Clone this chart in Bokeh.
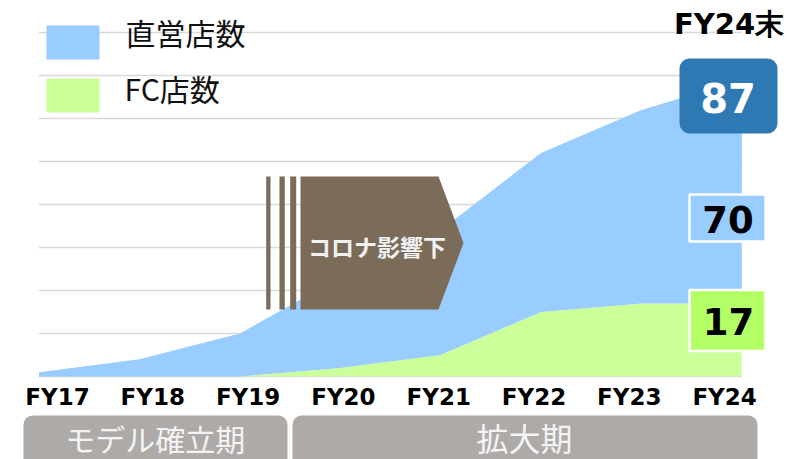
from bokeh.plotting import figure
from bokeh.models import ColumnDataSource, Range1d
from bokeh.core.properties import value
from bokeh.embed import file_html
from bokeh.resources import INLINE

# ---------------- data ----------------
years = ["FY17", "FY18", "FY19", "FY20", "FY21", "FY22", "FY23", "FY24"]
fc_stores = [0, 0, 0, 2, 5, 15, 17, 17]
direct_stores = [1, 4, 10, 21, 29, 37, 45, 52]
grid_values = [0, 10, 20, 30, 40, 50, 60, 70, 80]
series_names = ["直営店数", "FC店数"]
end_title = "FY24末"
end_total = 87
end_direct = 70
end_fc = 17
covid_label = "コロナ影響下"
phases = ["モデル確立期", "拡大期"]

# ---------------- style ----------------
BLUE = "#99CCFF"
GREEN = "#CCFF99"
DARK_BLUE = "#2E78B4"
BRIGHT_GREEN = "#B3FF66"
BROWN = "#7B6B59"
GRAY = "#AEAAA8"
GRID = "#D9D9D9"
CJK = value("Noto Sans CJK JP")
LAT = value("DejaVu Sans")

W, H = 810, 459
# canvas-pixel -> data helpers (frame covers the whole canvas)
X0, DX, Y0, DY = 38.5, 100.4, 376.0, 4.3
def px(X):
    return (X - X0) / DX
def py(Y):
    return (Y0 - Y) / DY

p = figure(width=W, height=H,
           x_range=Range1d(px(0), px(W)), y_range=Range1d(py(H), py(0)),
           output_backend="svg", toolbar_location=None, min_border=0,
           x_axis_location=None, y_axis_location=None)
p.xgrid.visible = False
p.ygrid.visible = False
p.outline_line_color = None
p.background_fill_color = "white"
p.border_fill_color = "white"

n = len(years)
idx = list(range(n))

# gridlines
p.segment(x0=[0] * len(grid_values), x1=[n - 1] * len(grid_values),
          y0=grid_values, y1=grid_values, line_color=GRID, line_width=1.6)

# stacked areas
src = ColumnDataSource(dict(x=idx, fc=fc_stores, direct=direct_stores))
p.varea_stack(["fc", "direct"], x="x", color=[GREEN, BLUE], source=src)

# covid arrow
p.quad(left=[px(265.7), px(279), px(289.7)], right=[px(270), px(284.3), px(295.7)],
       top=py(176), bottom=py(309), fill_color=BROWN, line_color=None)
p.patch(x=[px(300), px(438), px(463), px(438), px(300)],
        y=[py(176), py(176), py(242.5), py(309), py(309)],
        fill_color=BROWN, line_color=None)
p.text(x=[px(376.5)], y=[py(245)], text=[covid_label], text_font=CJK,
       text_font_style="bold", text_font_size="23px", text_color="#F2F2F2",
       text_align="center", text_baseline="middle")

# legend
p.quad(left=px(46), right=px(99), top=[py(25), py(78)], bottom=[py(59), py(112)],
       fill_color=[BLUE, GREEN], line_color=None)
p.text(x=[px(125), px(124)], y=[py(31.5), py(87)], text=series_names, text_font=CJK,
       text_font_size="30px", text_color="#111111", text_align="left",
       text_baseline="middle")

# end-of-period boxes
p.quad(left=px(679), right=px(777), top=py(58), bottom=py(133),
       fill_color=DARK_BLUE, line_color=None, border_radius=10)
p.quad(left=[px(689), px(689)], right=[px(765), px(765)],
       top=[py(194), py(289.5)], bottom=[py(241), py(350.5)],
       fill_color=[BLUE, BRIGHT_GREEN], line_color="white", line_width=2.5)
p.text(x=[px(727.5)], y=[py(97)], text=[str(end_total)], text_font=LAT,
       text_font_style="bold", text_font_size="40px", text_color="white",
       text_align="center", text_baseline="middle")
p.text(x=[px(727.5), px(728)], y=[py(219), py(321)], text=[str(end_direct), str(end_fc)],
       text_font=LAT, text_font_style="bold", text_font_size="37px",
       text_color="black", text_align="center", text_baseline="middle")
p.text(x=[px(728.5)], y=[py(23.5)], text=[end_title], text_font=LAT,
       text_font_style="bold", text_font_size="29px", text_color="black",
       text_align="center", text_baseline="middle")

# x labels
label_x = [px(57 + 95.3 * i) for i in idx]
p.text(x=label_x, y=[py(396)] * n, text=years, text_font=LAT, text_font_style="bold",
       text_font_size="23px", text_color="black", text_align="center",
       text_baseline="middle")

# phase bars
p.quad(left=[px(23), px(292)], right=[px(287), px(757)], top=py(415), bottom=py(475),
       fill_color=GRAY, line_color=None, border_radius=9)
p.text(x=[px(154.7)], y=[py(437.5)], text=[phases[0]], text_font=CJK,
       text_font_size="30px", text_color="#F4F4F4", text_align="center",
       text_baseline="middle")
p.text(x=[px(524)], y=[py(436.5)], text=[phases[1]], text_font=CJK,
       text_font_size="32px", text_color="#F4F4F4", text_align="center",
       text_baseline="middle")

open("out.html", "w").write(file_html(p, INLINE))
